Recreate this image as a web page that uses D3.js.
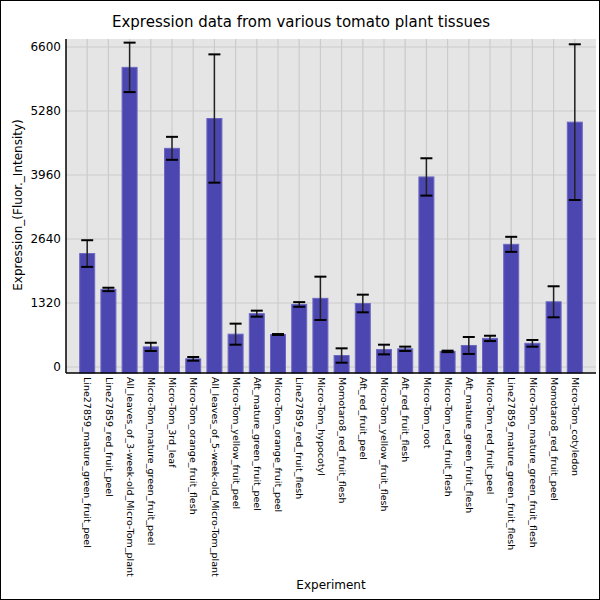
<!DOCTYPE html>
<html><head><meta charset="utf-8">
<script src="https://cdn.jsdelivr.net/npm/d3@7/dist/d3.min.js"></script>
<style>body{margin:0;background:#fff}svg{display:block}</style>
</head><body>
<script>
const categories = ["Line27859_mature_green_fruit_peel","Line27859_red_fruit_peel","All_leaves_of_3-week-old_Micro-Tom_plant","Micro-Tom_mature_green_fruit_peel","Micro-Tom_3rd_leaf","Micro-Tom_orange_fruit_flesh","All_leaves_of_5-week-old_Micro-Tom_plant","Micro-Tom_yellow_fruit_peel","Aft_mature_green_fruit_peel","Micro-Tom_orange_fruit_peel","Line27859_red_fruit_flesh","Micro-Tom_hypocotyl","Momotaro8_red_fruit_flesh","Aft_red_fruit_peel","Micro-Tom_yellow_fruit_flesh","Aft_red_fruit_flesh","Micro-Tom_root","Micro-Tom_red_fruit_flesh","Aft_mature_green_fruit_flesh","Micro-Tom_red_fruit_peel","Line27859_mature_green_fruit_flesh","Micro-Tom_mature_green_fruit_flesh","Momotaro8_red_fruit_peel","Micro-Tom_cotyledon"];
const values = [2340,1600,6180,415,4510,168,5125,677,1100,670,1290,1416,237,1310,360,375,3920,322,444,590,2530,488,1345,5050];
const errors = [275,35,510,85,237,38,1323,217,62,10,48,447,148,182,100,45,385,15,175,55,155,69,320,1606];
const yTicks = [0,1320,2640,3960,5280,6600];

const W=600,H=600;
const svg=d3.select("body").append("svg").attr("width",W).attr("height",H);
svg.append("rect").attr("x",0.5).attr("y",0.5).attr("width",W-1).attr("height",H-1).attr("fill","#fff").attr("stroke","#000");
const L=66,R=596,T=39,B=373;
const x=d3.scalePoint().domain(categories).range([L,R]).padding(1);
const y=d3.scaleLinear().domain([-123.75,6765]).range([B,T]);
const font="DejaVu Sans";
svg.append("rect").attr("x",L).attr("y",T).attr("width",R-L).attr("height",B-T).attr("fill","#e5e5e5");
// grid
svg.append("g").selectAll("line").data(yTicks).join("line")
 .attr("x1",L).attr("x2",R).attr("y1",d=>y(d)).attr("y2",d=>y(d)).attr("stroke","#cbcbcb").attr("stroke-width",1.2);
svg.append("g").selectAll("line").data(categories).join("line")
 .attr("x1",d=>x(d)).attr("x2",d=>x(d)).attr("y1",T).attr("y2",B).attr("stroke","#cbcbcb").attr("stroke-width",1.2);
// bars
const bw=15;
svg.append("g").selectAll("rect").data(categories).join("rect")
 .attr("x",d=>x(d)-bw/2).attr("width",bw)
 .attr("y",(d,i)=>y(values[i])).attr("height",(d,i)=>y(0)-y(values[i])+6)
 .attr("fill","#4b46b0").attr("stroke","#6c68c2").attr("stroke-width",1);
// error bars
const eg=svg.append("g");
categories.forEach((c,i)=>{
  const cx=x(c), hi=y(values[i]+errors[i]), lo=y(values[i]-errors[i]);
  eg.append("line").attr("x1",cx).attr("x2",cx).attr("y1",hi).attr("y2",lo).attr("stroke","#222").attr("stroke-width",1.5);
  [hi,lo].forEach(yy=>eg.append("line").attr("x1",cx-6).attr("x2",cx+6).attr("y1",yy).attr("y2",yy).attr("stroke","#000").attr("stroke-width",2));
});
// axes
const ya=svg.append("g").attr("transform",`translate(${L},0)`).call(d3.axisLeft(y).tickValues(yTicks).tickFormat(d3.format("d")).tickSize(0).tickPadding(5));
ya.select(".domain").remove();
ya.selectAll("text").attr("font-family",font).attr("font-size",12).attr("fill","#000");
const xa=svg.append("g").attr("transform",`translate(0,${B})`).call(d3.axisBottom(x).tickSize(0));
xa.select(".domain").remove();
xa.selectAll("text").attr("font-family",font).attr("font-size",9.5).attr("fill","#000")
 .attr("text-anchor","start").attr("dy","0.35em").attr("x",4).attr("y",0)
 .attr("transform","rotate(90)");
svg.append("line").attr("x1",L).attr("x2",L).attr("y1",T).attr("y2",B).attr("stroke","#000").attr("stroke-width",1.5);
svg.append("line").attr("x1",L).attr("x2",R).attr("y1",B).attr("y2",B).attr("stroke","#000").attr("stroke-width",1.5);
// titles
svg.append("text").attr("x",301).attr("y",27).attr("text-anchor","middle").attr("font-family",font).attr("font-size",15).text("Expression data from various tomato plant tissues");
svg.append("text").attr("x",331).attr("y",589).attr("text-anchor","middle").attr("font-family",font).attr("font-size",12).text("Experiment");
svg.append("text").attr("transform","translate(22,205) rotate(-90)").attr("text-anchor","middle").attr("font-family",font).attr("font-size",12).text("Expression_(Fluor._Intensity)");
</script>
</body></html>
